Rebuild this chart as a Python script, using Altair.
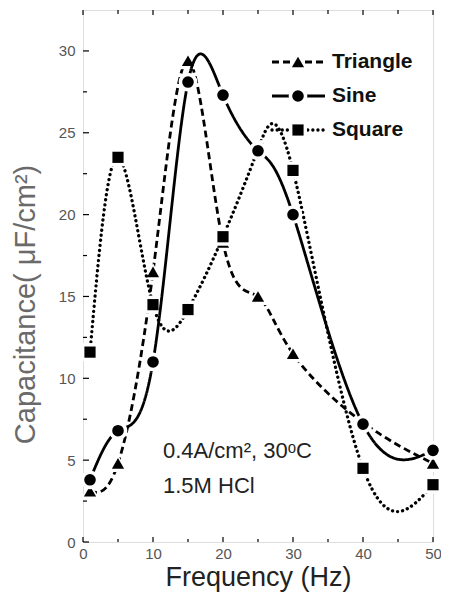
import altair as alt
import pandas as pd

# ---- data ----
freq = [1, 5, 10, 15, 20, 25, 30, 40, 50]
triangle = [3.1, 4.8, 16.5, 29.4, 18.3, 15.0, 11.5, 7.3, 4.8]
sine = [3.8, 6.8, 11.0, 28.1, 27.3, 23.9, 20.0, 7.2, 5.6]
square = [11.6, 23.5, 14.5, 14.2, 18.65, 24.0, 22.7, 4.5, 3.5]

series_names = ["Triangle", "Sine", "Square"]
x_major = [0, 10, 20, 30, 40, 50]
x_minor = [5, 15, 25, 35, 45]
y_major = [0, 5, 10, 15, 20, 25, 30]
y_minor = [2.5, 7.5, 12.5, 17.5, 22.5, 27.5]
note_lines = ["0.4A/cm², 30ᵒC", "1.5M HCl"]

W, H = 350, 532
FONT = "Liberation Sans"
xs = alt.Scale(domain=[0, 50], nice=False, zero=False)
ys = alt.Scale(domain=[0, 32.5], nice=False, zero=False)

styles = {
    "Triangle": dict(shape="triangle-up", size=150, dash=[7, 4], cap="butt", sw=2.8),
    "Sine": dict(shape="circle", size=135, dash=[1, 0], cap="butt", sw=2.8),
    "Square": dict(shape="square", size=125, dash=[0.1, 5], cap="round", sw=3.3),
}
values = {"Triangle": triangle, "Sine": sine, "Square": square}

x_axis = alt.Axis(values=x_major, ticks=False, domain=False, grid=False,
                  labelFontSize=15, labelColor="#555", labelPadding=4,
                  labelFlush=False, labelOverlap=False, labelFont=FONT,
                  title="Frequency (Hz)", titleFontSize=27, titleFontWeight="normal",
                  titleColor="#222", titleFont=FONT,
                  titleBaseline="alphabetic", titleY=43)
y_axis = alt.Axis(values=y_major, ticks=False, domain=False, grid=False,
                  labelFontSize=15, labelColor="#555", labelPadding=8,
                  labelFont=FONT, labelOverlap=False,
                  title="Capacitance( μF/cm²)", titleFontSize=29,
                  titleFontWeight="normal", titleColor="#6a6a6a", titleFont=FONT,
                  titleAngle=270, titleX=-58, titleY=294,
                  titleAlign="center", titleBaseline="middle")

XE = alt.X("f:Q", scale=xs, axis=x_axis)
YE = alt.Y("c:Q", scale=ys, axis=y_axis)

layers = []
for name in ["Triangle", "Square", "Sine"]:
    st = styles[name]
    df = pd.DataFrame({"f": freq, "c": values[name]})
    base = alt.Chart(df)
    line = base.mark_line(interpolate="natural", color="black", strokeWidth=st["sw"],
                          strokeDash=st["dash"], strokeCap=st["cap"]).encode(x=XE, y=YE)
    halo = base.mark_point(filled=True, shape=st["shape"], size=st["size"] * 2.6,
                           color="white", opacity=1).encode(x=XE, y=YE)
    pts = base.mark_point(filled=True, shape=st["shape"], size=st["size"],
                          color="black", opacity=1).encode(x=XE, y=YE)
    layers += [line, halo, pts]

# ---- inward ticks ----
def tick_layer(vals, axis, length):
    m = alt.Chart(pd.DataFrame({"f": vals, "c": vals})).mark_rule(color="black", strokeWidth=1.2)
    if axis == "bottom":
        return m.encode(x=XE, y=alt.value(H), y2=alt.value(H - length))
    if axis == "top":
        return m.encode(x=XE, y=alt.value(0), y2=alt.value(length))
    return m.encode(y=YE, x=alt.value(0), x2=alt.value(length))

layers += [tick_layer(x_major, "bottom", 5), tick_layer(x_minor, "bottom", 3),
           tick_layer(x_major, "top", 5), tick_layer(x_minor, "top", 4),
           tick_layer(y_major, "left", 6), tick_layer(y_minor, "left", 4)]

# ---- legend (manual) ----
leg_y = [52, 86, 120]
for name, yy in zip(series_names, leg_y):
    st = styles[name]
    lb = alt.Chart(pd.DataFrame({"label": [name]}))
    layers.append(lb.mark_rule(color="black", strokeWidth=st["sw"], strokeDash=st["dash"],
                               strokeCap=st["cap"]).encode(
        x=alt.value(189), x2=alt.value(242), y=alt.value(yy)))
    layers.append(lb.mark_point(filled=True, shape=st["shape"], size=st["size"] * 2.6,
                                color="white", opacity=1).encode(x=alt.value(215), y=alt.value(yy)))
    layers.append(lb.mark_point(filled=True, shape=st["shape"], size=st["size"],
                                color="black", opacity=1).encode(x=alt.value(215), y=alt.value(yy)))
    layers.append(lb.mark_text(align="left", baseline="middle", fontSize=21, fontWeight="bold",
                               font=FONT, color="#111").encode(
        x=alt.value(249), y=alt.value(yy), text="label:N"))

# ---- annotation ----
for i, t in enumerate(note_lines):
    layers.append(alt.Chart(pd.DataFrame({"t": [t]})).mark_text(
        align="left", baseline="middle", fontSize=22, font=FONT, color="#222").encode(
        x=alt.value(80), y=alt.value(441 + 35 * i), text="t:N"))

chart = alt.layer(*layers).properties(
    width=W, height=H, autosize=alt.AutoSizeParams(type="none"),
    padding={"left": 75, "top": 2, "right": 8, "bottom": 50},
).configure_view(stroke="black", strokeWidth=1.5).configure(background="white")

chart.save("out.html", embed_options={"renderer": "svg", "actions": False})
